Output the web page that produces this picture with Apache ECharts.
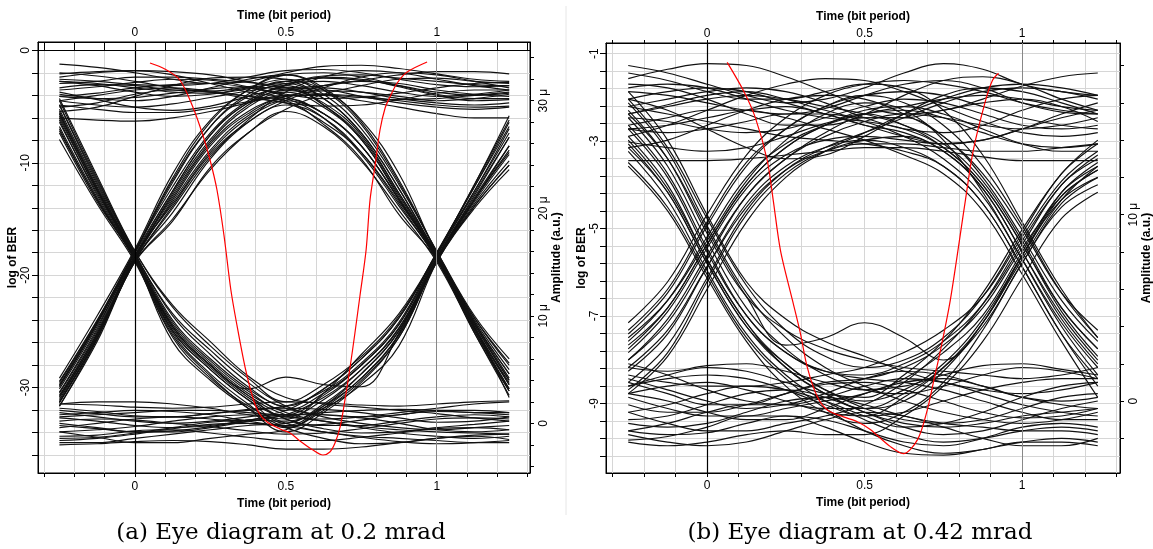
<!DOCTYPE html>
<html><head><meta charset="utf-8">
<script src="https://cdn.jsdelivr.net/npm/echarts@6/dist/echarts.min.js"></script>
<style>html,body{margin:0;padding:0;background:#fff}#c{width:1153px;height:549px}</style>
</head><body><div id="c"></div>
<script>
// ---------- data ----------
const timeSamples = [-0.25,-0.125,0,0.125,0.25,0.375,0.5,0.625,0.75,0.875,1,1.125,1.24];

// Panel (a) traces, amplitude in micro units
const a_flatHigh = [
[33.4,33.1,32.6,32.0,31.6,31.8,32.6,33.2,33.3,33.0,32.5,32.0,31.8],
[32.5,32.7,32.8,32.7,32.4,31.8,31.2,31.4,31.9,32.4,32.7,32.7,32.5],
[31.8,31.6,31.2,30.8,30.7,31.1,31.8,32.1,31.9,31.4,30.8,30.5,30.7],
[31.0,31.3,31.7,32.0,31.9,31.3,30.6,30.2,30.3,30.7,31.2,31.6,31.7],
[30.4,30.2,30.3,30.7,31.1,31.3,31.0,30.6,30.3,30.1,30.2,30.5,30.8],
[29.6,29.2,28.9,28.9,29.3,29.9,30.4,30.6,30.4,30.0,29.6,29.4,29.5],
[30.8,30.1,29.4,29.1,29.5,30.4,31.4,32.2,32.0,31.3,30.5,30.0,30.1],
[28.4,28.2,28.1,28.4,29.0,29.8,30.5,30.5,30.0,29.4,28.8,28.4,28.4],
[32.0,31.8,31.5,31.4,31.6,32.2,32.8,32.9,32.6,32.0,31.5,31.3,31.4],
[30.0,30.5,31.0,31.2,30.9,30.4,29.8,29.5,29.6,30.1,30.7,31.0,31.0]
];
const a_flatLow = [
[1.8,1.7,1.5,1.4,1.5,1.8,2.0,1.9,1.7,1.6,1.8,2.0,2.1],
[0.8,1.0,1.2,1.1,0.8,0.2,-0.2,-0.1,0.3,0.8,1.1,1.0,0.8],
[-0.2,-0.5,-0.8,-0.7,-0.3,0.3,0.8,0.8,0.5,0.0,-0.6,-0.8,-0.6],
[-1.2,-1.1,-0.7,-0.6,-0.9,-1.3,-1.6,-1.6,-1.3,-0.9,-0.5,-0.4,-0.6],
[-2.0,-1.9,-1.7,-1.6,-1.7,-2.0,-2.4,-2.4,-2.2,-1.8,-1.4,-1.2,-1.5],
[0.2,0.4,0.3,0.0,-0.3,-0.7,-1.0,-0.9,-0.5,0.0,0.4,0.5,0.4],
[1.2,0.9,0.6,0.6,0.9,1.2,1.4,1.3,1.0,0.5,0.1,0.2,0.6],
[-1.6,-1.4,-1.0,-0.5,-0.1,0.0,-0.3,-0.8,-1.3,-1.7,-1.9,-1.8,-1.6],
[0.5,0.2,-0.2,-0.4,-0.2,0.3,0.7,1.0,1.2,1.3,1.2,1.0,1.0],
[-0.8,-0.6,-0.3,0.2,0.6,0.8,0.6,0.2,-0.3,-0.6,-0.8,-0.9,-1.0]
];
const a_riseStay = [
[3.8,9.5,16.0,22.0,27.0,30.0,31.5,32.3,32.4,32.1,31.8,31.5,31.4],
[2.6,8.4,15.4,21.0,26.0,29.0,30.4,30.9,30.8,30.4,30.0,30.2,30.6],
[1.6,7.6,15.0,19.0,23.6,27.0,29.2,30.6,31.4,32.0,32.1,31.8,31.6],
[3.2,9.0,15.6,21.6,26.8,29.8,31.0,31.2,30.8,30.2,29.8,29.6,29.8],
[2.0,8.0,15.2,19.6,24.6,28.0,30.0,31.2,32.2,32.6,32.4,31.8,31.2],
[4.2,10.0,16.2,23.2,28.2,31.0,32.4,32.6,32.2,31.4,30.6,30.2,30.2],
[2.9,8.8,15.6,20.4,25.2,28.4,30.2,31.4,31.8,31.6,31.0,30.6,30.4],
[3.5,9.3,15.9,22.6,27.6,30.4,31.6,31.8,31.4,30.8,30.4,30.6,31.0],
[1.9,7.9,15.1,20.0,24.8,28.2,30.8,32.2,32.8,32.6,32.0,31.4,31.0],
[2.4,8.2,15.3,21.4,26.4,29.6,31.0,31.0,30.4,29.8,29.4,29.2,29.4]
];
const a_stayFall = [
[31.6,31.8,32.2,32.2,32.0,31.7,31.2,29.8,26.8,21.4,15.6,9.4,4.6],
[30.4,30.7,31.2,31.5,31.6,31.2,30.4,28.8,25.8,20.8,15.4,8.8,3.6],
[29.0,29.4,30.4,31.4,32.1,32.2,32.0,31.0,28.2,23.2,15.8,9.8,5.6],
[32.6,32.3,31.8,31.2,30.8,30.4,30.0,27.8,24.6,19.4,15.2,8.4,3.0],
[30.0,29.6,29.4,29.7,30.3,30.9,31.4,29.6,26.4,21.2,15.5,9.0,2.4],
[31.2,31.5,31.4,31.0,30.9,31.3,32.0,30.6,27.4,22.2,16.0,10.0,6.0],
[31.8,31.4,30.8,30.4,30.6,31.2,31.6,30.2,27.0,21.8,15.6,9.2,4.0],
[32.2,32.6,32.8,32.4,31.6,30.8,30.2,28.4,25.0,20.2,15.3,8.6,3.2],
[30.6,30.2,30.0,30.4,31.2,32.0,32.4,31.2,28.0,22.6,15.9,9.6,5.0],
[29.4,29.8,30.6,31.0,30.8,30.2,29.8,28.0,25.2,20.6,15.4,8.9,3.8]
];
const a_pulseHigh = [
[3.4,9.2,15.8,21.6,26.8,29.8,31.2,29.6,26.6,21.4,15.8,9.4,4.2],
[2.2,8.2,15.2,20.8,25.8,28.8,30.2,28.8,25.8,20.8,15.3,8.8,3.2],
[1.6,7.8,15.0,18.8,23.8,27.0,29.0,27.6,24.4,19.8,15.0,8.4,2.6],
[3.9,9.6,16.0,22.8,28.0,31.0,32.4,31.0,27.8,22.4,16.0,9.8,5.4],
[2.8,8.6,15.5,21.2,26.2,29.4,30.8,29.4,26.4,21.0,15.5,9.2,4.0],
[2.5,8.4,15.4,20.6,25.4,28.6,30.0,28.8,25.8,20.8,15.4,9.0,3.6],
[3.6,9.4,15.9,22.4,27.6,30.6,31.8,30.2,27.0,21.8,15.7,9.4,4.6],
[2.0,8.0,15.1,20.2,25.0,28.0,29.6,28.4,25.2,20.4,15.2,8.6,3.0]
];
const a_fallStay = [
[29.6,22.4,15.8,9.6,6.0,3.2,1.4,0.8,0.6,0.8,1.2,1.2,1.0],
[28.2,21.2,15.4,8.8,5.2,2.4,0.4,-0.5,-0.9,-0.8,-0.4,-0.1,0.2],
[27.0,20.6,15.2,7.6,4.0,1.4,-0.4,-1.4,-1.9,-1.8,-1.4,-1.1,-1.0],
[30.0,22.8,16.0,11.0,7.6,4.4,2.4,1.8,1.5,1.2,0.9,0.5,0.2],
[28.8,21.8,15.5,9.2,5.6,2.8,1.0,0.2,-0.4,-0.9,-1.2,-1.4,-1.2],
[28.6,21.6,15.5,9.0,5.4,2.6,0.8,0.4,0.6,1.0,1.4,1.8,2.0],
[29.2,22.2,15.7,10.2,6.8,3.8,1.6,0.6,0.0,-0.4,-0.6,-0.4,-0.2],
[27.4,20.8,15.2,8.0,4.2,1.6,0.0,-0.8,-1.2,-1.4,-1.6,-1.8,-1.8],
[28.0,21.4,15.4,8.6,5.0,2.2,0.4,-0.2,-0.2,0.2,0.6,0.8,0.6]
];
const a_stayRise = [
[1.4,1.1,0.7,0.6,0.9,1.3,1.6,3.0,5.6,9.4,15.8,21.6,27.0],
[0.0,-0.4,-0.8,-0.8,-0.4,0.2,0.8,2.4,5.0,8.8,15.4,21.0,25.8],
[-1.4,-1.3,-0.9,-0.4,0.1,0.3,0.2,1.4,3.6,7.2,15.0,20.4,24.4],
[-0.8,-1.3,-1.8,-1.8,-1.4,-1.0,-0.6,1.2,4.0,8.0,15.0,20.0,23.6],
[1.8,2.0,2.0,1.8,1.4,0.8,0.4,2.8,6.4,10.2,15.8,22.2,28.2],
[0.6,0.8,1.0,1.2,1.2,1.0,0.8,2.6,5.4,9.2,15.6,21.4,26.6],
[-1.8,-1.8,-1.4,-1.0,-0.6,-0.2,0.0,1.6,4.2,8.2,15.1,20.2,24.0],
[1.0,0.6,0.2,0.0,0.2,0.6,1.2,3.2,6.0,9.8,15.9,22.0,27.6],
[-0.4,0.0,0.4,0.6,0.4,0.0,-0.2,1.6,4.6,8.6,15.3,20.8,25.2]
];
const a_pulseLow = [
[29.0,22.0,15.6,9.4,5.8,3.0,1.2,2.8,5.4,9.2,15.6,21.6,27.4],
[27.6,21.0,15.3,8.6,5.0,2.2,0.0,1.8,4.6,8.6,15.3,20.8,25.4],
[28.4,21.6,15.5,9.0,5.4,3.2,4.3,3.6,3.4,8.4,15.2,20.8,25.8],
[26.4,20.4,15.0,8.2,4.4,1.4,-0.8,1.0,3.8,8.0,15.0,20.2,24.0],
[30.2,23.0,16.0,10.8,7.2,4.2,2.0,3.6,6.2,10.0,15.8,22.2,28.6],
[28.8,21.8,15.5,9.0,5.4,2.6,0.6,2.2,5.0,8.9,15.4,21.2,26.6],
[27.2,20.8,15.2,8.4,4.6,1.8,-0.4,1.4,4.2,8.3,15.2,20.6,25.0],
[29.6,22.6,15.8,10.0,6.4,3.4,1.6,3.2,6.0,9.8,15.8,22.0,28.0]
];

// Panel (b) traces
const b_flatHigh = [
[18.0,17.6,17.0,16.4,16.0,16.2,16.8,17.6,18.1,17.8,17.0,16.6,16.4],
[17.3,17.8,18.1,18.0,17.4,16.6,15.8,15.4,15.6,16.2,16.9,17.4,17.6],
[16.6,16.4,16.0,15.6,15.4,15.7,16.4,17.0,17.2,16.8,16.0,15.5,15.4],
[15.8,16.2,16.6,16.8,16.6,16.0,15.2,14.6,14.4,14.8,15.6,16.2,16.4],
[15.2,15.0,14.6,14.4,14.6,15.2,15.8,16.2,16.0,15.4,14.8,14.6,14.8],
[14.6,14.8,15.2,15.6,15.8,15.4,14.8,14.2,13.8,14.0,14.6,15.2,15.6],
[13.9,13.6,13.4,13.6,14.2,14.9,15.4,15.6,15.2,14.4,13.8,13.6,13.8],
[12.9,12.9,12.9,13.0,13.2,13.4,13.6,13.6,13.4,13.1,12.9,12.9,12.9],
[16.2,15.6,14.6,13.6,13.0,13.2,14.2,15.4,16.4,16.8,16.6,16.0,15.4],
[14.2,14.8,15.6,16.4,17.0,17.3,17.2,16.6,15.8,15.0,14.4,14.2,14.4],
[17.0,16.8,16.2,15.4,14.8,14.8,15.4,16.4,17.2,17.4,17.0,16.2,15.6],
[15.4,15.9,16.4,16.6,16.2,15.6,15.2,15.2,15.6,16.0,16.2,15.8,15.0]
];
const b_flatLow = [
[1.8,1.6,1.9,2.0,1.6,1.0,0.6,0.8,1.4,1.9,2.0,1.7,1.4],
[0.8,1.2,1.4,1.2,0.6,-0.2,-0.8,-0.6,0.0,0.6,1.0,1.2,1.2],
[-0.2,-0.6,-0.6,-0.2,0.4,0.9,1.0,0.6,0.0,-0.6,-0.9,-0.8,-0.4],
[-1.0,-0.8,-0.2,0.4,0.6,0.2,-0.6,-1.4,-1.8,-1.6,-1.0,-0.4,0.0],
[-1.6,-1.8,-1.7,-1.2,-0.8,-1.0,-1.6,-2.2,-2.4,-2.0,-1.4,-1.2,-1.4],
[-2.1,-1.9,-1.4,-0.8,-0.8,-1.4,-2.2,-2.8,-2.9,-2.6,-2.2,-2.0,-2.2],
[0.4,0.0,-0.6,-1.0,-1.0,-0.4,0.4,1.0,1.2,0.8,0.2,-0.2,-0.4],
[1.2,0.6,0.0,-0.4,-0.2,0.4,1.2,1.6,1.4,0.8,0.2,0.0,0.2],
[-0.6,-0.2,0.4,0.8,0.6,0.0,-0.8,-1.4,-1.2,-0.6,0.2,0.8,1.0],
[-1.2,-1.4,-1.2,-0.6,0.0,0.2,-0.2,-0.8,-1.2,-1.4,-1.6,-1.6,-1.8],
[2.0,1.4,0.6,0.0,-0.2,0.2,0.8,1.2,1.0,0.4,-0.2,-0.6,-0.8],
[-1.8,-2.2,-2.4,-2.2,-1.6,-1.0,-0.6,-0.8,-1.4,-2.0,-2.4,-2.4,-2.0]
];
const b_riseStay = [
[3.2,5.4,8.8,12.0,13.8,14.8,15.4,15.8,16.2,16.4,16.2,15.8,15.6],
[2.2,4.2,7.6,11.0,13.0,14.2,15.0,15.4,15.2,14.8,14.6,14.8,15.2],
[1.0,3.0,6.6,10.2,12.4,13.6,14.4,15.2,16.0,16.6,16.8,16.6,16.2],
[3.8,6.0,9.6,12.8,14.6,15.8,16.4,16.6,16.4,15.8,15.2,14.8,14.6],
[2.6,4.8,8.2,11.4,13.2,14.0,14.2,14.0,13.8,14.0,14.6,15.4,16.0],
[0.4,2.4,6.0,9.6,12.0,13.4,14.4,15.4,16.2,16.8,17.0,16.8,16.4],
[3.0,5.0,8.4,11.6,13.6,14.8,15.6,15.8,15.4,14.6,13.8,13.4,13.4],
[1.8,3.8,7.2,10.4,12.4,13.4,13.8,13.8,13.6,13.4,13.4,13.6,13.8],
[4.2,6.4,10.0,13.2,15.2,16.4,17.0,17.2,17.0,16.6,16.0,15.6,15.4]
];
const b_stayFall = [
[15.4,15.8,16.2,16.4,16.2,15.8,15.4,14.8,13.8,11.8,8.6,5.0,2.8],
[14.6,14.4,14.6,15.0,15.4,15.4,15.0,14.2,13.0,11.0,7.6,4.2,1.8],
[16.8,17.0,16.8,16.2,15.6,15.2,15.0,14.6,13.6,11.6,8.4,4.8,2.4],
[13.6,14.0,14.8,15.6,16.2,16.4,16.2,15.4,14.2,12.2,9.2,5.8,3.8],
[15.8,15.4,15.0,14.6,14.2,14.0,13.8,13.4,12.6,10.6,7.2,3.6,0.8],
[17.6,17.2,16.6,16.2,16.2,16.6,17.0,16.8,15.6,13.2,9.6,6.0,3.4],
[14.8,15.2,15.6,15.6,15.2,14.6,14.0,13.2,12.2,10.2,6.8,3.2,0.2],
[16.2,16.6,16.8,16.6,16.0,15.4,14.8,14.4,13.4,11.4,8.0,4.6,2.2]
];
const b_pulseHigh = [
[2.8,5.0,8.4,11.6,13.6,14.8,15.4,14.8,13.6,11.6,8.4,5.0,2.8],
[1.6,3.6,7.2,10.6,12.6,13.6,14.0,13.6,12.6,10.6,7.2,3.6,1.2],
[3.6,5.8,9.4,12.6,14.6,15.8,16.4,16.0,14.8,12.6,9.4,5.8,3.4],
[0.6,2.6,6.4,10.0,12.2,13.4,14.0,14.2,13.4,11.4,8.0,4.4,2.0],
[2.2,4.4,7.8,11.0,13.0,14.4,15.2,15.2,14.2,12.0,8.8,5.4,3.2],
[3.4,5.4,8.6,11.8,14.0,15.4,16.0,15.6,14.0,11.2,7.6,4.0,1.4]
];
const b_fallStay = [
[15.2,12.6,8.6,5.0,2.8,1.4,0.6,0.4,0.8,1.4,1.8,1.6,1.2],
[14.2,11.6,7.6,4.2,2.0,0.6,-0.4,-1.0,-1.2,-1.0,-0.4,0.2,0.4],
[16.0,13.4,9.4,5.8,3.4,1.8,0.8,0.0,-0.6,-1.0,-1.2,-1.0,-0.6],
[13.4,10.8,7.0,3.6,1.4,0.0,-1.0,-1.8,-2.2,-2.0,-1.6,-1.4,-1.6],
[14.8,12.2,8.2,4.6,2.6,1.6,1.2,1.0,0.6,0.0,-0.6,-1.0,-1.0],
[15.6,13.0,9.0,5.6,3.8,2.8,2.2,1.8,1.6,1.4,1.2,1.4,1.8],
[12.8,10.4,6.8,3.4,1.2,-0.4,-1.6,-2.4,-2.8,-2.6,-2.2,-2.2,-2.4],
[16.6,14.0,10.0,6.4,4.4,3.2,2.4,1.6,1.0,0.6,0.4,0.6,1.0],
[13.8,11.2,7.4,4.0,1.8,0.4,-0.6,-1.2,-1.4,-1.2,-0.8,-0.6,-0.4]
];
const b_stayRise = [
[1.4,1.0,0.8,0.8,1.0,1.4,1.8,2.6,3.8,5.6,8.8,11.8,13.4],
[0.2,-0.4,-0.8,-0.8,-0.4,0.0,0.4,1.2,2.6,4.6,8.0,11.2,12.6],
[-1.6,-1.2,-0.6,-0.2,-0.2,-0.4,-0.4,0.4,1.8,4.0,7.4,10.6,12.0],
[-0.6,-1.2,-1.6,-1.6,-1.2,-0.8,-0.2,1.0,2.8,5.2,8.6,11.6,13.2],
[0.8,1.4,1.8,1.6,1.0,0.4,0.2,1.4,3.2,5.8,9.2,12.2,14.0],
[-2.2,-2.4,-2.2,-1.8,-1.6,-1.8,-1.8,-0.8,0.8,3.2,6.6,9.8,11.2],
[1.0,0.4,-0.2,-0.2,0.4,1.0,1.2,1.8,3.0,5.0,8.2,11.0,12.4],
[0.4,0.8,1.0,0.6,0.0,-0.6,-0.8,0.2,1.8,4.2,7.6,10.8,12.6]
];
const b_pulseLow = [
[14.6,12.0,8.0,4.6,2.6,1.6,1.4,2.0,3.2,5.2,8.4,11.6,13.0],
[13.6,11.2,7.4,4.0,2.0,0.6,0.0,0.6,2.0,4.4,7.8,11.0,12.4],
[15.4,13.0,9.2,5.6,3.0,3.4,4.2,3.4,2.2,4.2,7.8,11.2,12.8],
[12.6,10.2,6.6,3.2,0.8,-0.6,-1.2,-0.6,1.0,3.8,7.4,10.4,11.6],
[16.2,13.6,9.8,6.2,3.8,2.4,1.8,2.2,3.4,5.6,9.0,12.2,13.8],
[14.0,11.4,7.6,4.2,1.8,0.4,-0.4,0.0,1.6,4.2,7.8,10.8,12.0]
];

// BER curves (time, log10 BER)
const berA_t   = [0.050,0.099,0.149,0.192,0.225,0.249,0.272,0.295,0.318,0.338,0.365,0.391,0.411,0.438,0.481,0.514,0.547,0.590,0.623,0.646,0.663,0.680,0.696,0.713,0.729,0.746,0.766,0.779,0.796,0.812,0.829,0.845,0.869,0.902,0.968];
const berA_log = [-1.12,-1.65,-2.63,-5.03,-7.53,-9.75,-12.42,-16.42,-21.32,-24.43,-28.17,-30.93,-32.26,-33.06,-33.68,-34.04,-34.75,-35.56,-36.0,-35.73,-34.93,-33.5,-31.1,-28.17,-25.14,-21.76,-17.76,-13.31,-10.19,-7.08,-5.12,-4.14,-2.9,-1.92,-1.03];
const berB_t   = [0.064,0.115,0.153,0.191,0.210,0.233,0.271,0.296,0.318,0.350,0.382,0.433,0.477,0.518,0.582,0.623,0.668,0.699,0.718,0.741,0.772,0.820,0.845,0.884,0.906,0.925];
const berB_log = [-1.2,-1.84,-2.46,-3.44,-4.35,-5.5,-6.64,-7.39,-8.17,-8.85,-9.15,-9.31,-9.42,-9.6,-9.99,-10.15,-9.83,-9.15,-8.53,-7.78,-6.64,-4.35,-3.21,-2.07,-1.61,-1.45];

// ticks and labels
const xTickVals  = [-0.3,-0.2,-0.1,0,0.1,0.2,0.3,0.4,0.5,0.6,0.7,0.8,0.9,1,1.1,1.2,1.3];
const xLabelVals = [0,0.5,1];
const berTicksA  = [-36,-34,-32,-30,-28,-26,-24,-22,-20,-18,-16,-14,-12,-10,-8,-6,-4,-2,0];
const berLabelsA = [-30,-20,-10,0];
const ampTicksA  = [-4,-2,0,2,4,6,8,10,12,14,16,18,20,22,24,26,28,30,32,34];
const ampLabelsA = [0,10,20,30];
const berTicksB  = [-10.2,-9.8,-9.4,-9,-8.6,-8.2,-7.8,-7.4,-7,-6.6,-6.2,-5.8,-5.4,-5,-4.6,-4.2,-3.8,-3.4,-3,-2.6,-2.2,-1.8,-1.4,-1];
const berLabelsB = [-9,-7,-5,-3,-1];
const ampTicksB  = [-2,0,2,4,6,8,10,12,14,16,18];
const ampLabelsB = [0,10];
const captions = ['(a) Eye diagram at 0.2 mrad', '(b) Eye diagram at 0.42 mrad'];
const timeName = 'Time (bit period)';
const berName = 'log of BER';
const ampName = 'Amplitude (a.u.)';

// ---------- chart ----------
const SANS = '"Liberation Sans", Arial, sans-serif';
const nameStyle = {fontWeight:'bold', fontSize:12, color:'#000', fontFamily:SANS};
const labelBase = {color:'#000', fontSize:12, fontFamily:SANS};
const gridLine = {show:true, lineStyle:{color:'#d6d6d6', width:1, type:'solid'}};
const black = {color:'#000', width:1};

function xAx(g, pos, min, max, tickLen, tickInside, margin, gap, split) {
  return {gridIndex:g, type:'value', position:pos, min:min, max:max,
    axisLine:{show:true, onZero:false, lineStyle:black},
    axisTick:{show:true, inside:tickInside, length:tickLen, customValues:xTickVals, lineStyle:black},
    axisLabel:Object.assign({show:true, customValues:xLabelVals, margin:margin, formatter:v=>String(v)}, labelBase),
    splitLine: split ? gridLine : {show:false},
    name:timeName, nameLocation:'middle', nameGap:gap, nameTextStyle:nameStyle};
}
function yAx(g, pos, min, max, ticks, labels, fmt, margin, gap, name, split, tickLen) {
  return {gridIndex:g, type:'value', position:pos, min:min, max:max,
    axisLine:{show:true, onZero:false, lineStyle:black},
    axisTick:{show:true, inside:false, length:tickLen, customValues:ticks, lineStyle:black},
    axisLabel:Object.assign({show:true, customValues:labels, margin:margin, rotate:90, formatter:fmt}, labelBase),
    splitLine: split ? gridLine : {show:false},
    name:name, nameLocation:'middle', nameGap:gap, nameTextStyle:nameStyle};
}
const ampFmt = v => v === 0 ? '0' : v + ' μ';

function traces(list, xi, yi) {
  return list.map(v => ({type:'line', xAxisIndex:xi, yAxisIndex:yi, silent:true, animation:false,
    data: timeSamples.map((t,i)=>[t, v[i]]), smooth:0.4, showSymbol:false, symbol:'none',
    lineStyle:{color:'#111', width:1.15}, z:3}));
}
function berSeries(ts, ls, xi, yi, marks) {
  return {type:'line', xAxisIndex:xi, yAxisIndex:yi, silent:true, animation:false,
    data: ts.map((t,i)=>[t, ls[i]]), smooth:0.3, showSymbol:false, symbol:'none',
    lineStyle:{color:'#ff0000', width:1.2}, z:6,
    markLine:{silent:true, symbol:['none','none'], animation:false, label:{show:false},
      emphasis:{disabled:true}, data:marks}};
}

const series = [].concat(
  traces(a_flatHigh,0,1), traces(a_flatLow,0,1), traces(a_riseStay,0,1), traces(a_stayFall,0,1),
  traces(a_pulseHigh,0,1), traces(a_fallStay,0,1), traces(a_stayRise,0,1), traces(a_pulseLow,0,1),
  traces(b_flatHigh,2,3), traces(b_flatLow,2,3), traces(b_riseStay,2,3), traces(b_stayFall,2,3),
  traces(b_pulseHigh,2,3), traces(b_fallStay,2,3), traces(b_stayRise,2,3), traces(b_pulseLow,2,3),
  [berSeries(berA_t, berA_log, 0, 0, [
      {xAxis:0, lineStyle:{color:'#000', width:1.2, type:'solid'}},
      {xAxis:1, lineStyle:{color:'#888', width:1, type:'solid'}},
      {yAxis:0, lineStyle:{color:'#000', width:1, type:'solid'}}]),
   berSeries(berB_t, berB_log, 2, 2, [
      {xAxis:0, lineStyle:{color:'#000', width:1.2, type:'solid'}},
      {xAxis:1, lineStyle:{color:'#888', width:1, type:'solid'}}])]
);

const capFont = '23px "DejaVu Serif", serif';
const option = {
  animation:false,
  backgroundColor:'#fff',
  grid:[
    {left:38, top:42, width:492, height:431, show:true, borderColor:'#000', borderWidth:1, containLabel:false, outerBoundsMode:'none'},
    {left:606, top:43, width:514, height:430, show:true, borderColor:'#000', borderWidth:1, containLabel:false, outerBoundsMode:'none'}
  ],
  xAxis:[
    xAx(0,'bottom',-0.321,1.309,4,false,8,22,true),
    xAx(0,'top',-0.321,1.309,8,true,3,18,false),
    xAx(1,'bottom',-0.3206,1.3105,4,false,7,20,true),
    xAx(1,'top',-0.3206,1.3105,3,false,3,19,false)
  ],
  yAxis:[
    yAx(0,'left',-37.6,0.75,berTicksA,berLabelsA,v=>String(v),6,17,berName,true,6),
    yAx(0,'right',-4.62,35.46,ampTicksA,ampLabelsA,ampFmt,8,21,ampName,false,4),
    yAx(1,'left',-10.593,-0.758,berTicksB,berLabelsB,v=>String(v),5,16,berName,true,6),
    yAx(1,'right',-3.86,19.21,ampTicksB,ampLabelsB,ampFmt,8,19,ampName,false,4)
  ],
  graphic:[
    {type:'line', shape:{x1:566, y1:6, x2:566, y2:515}, style:{stroke:'#e6e6e6', lineWidth:1}, silent:true},
    {type:'text', x:281, y:533, silent:true, style:{text:captions[0], font:capFont, fill:'#000', align:'center', verticalAlign:'middle', textAlign:'center', textVerticalAlign:'middle'}},
    {type:'text', x:860, y:533, silent:true, style:{text:captions[1], font:capFont, fill:'#000', align:'center', verticalAlign:'middle', textAlign:'center', textVerticalAlign:'middle'}}
  ],
  series: series
};
const chart = echarts.init(document.getElementById('c'), null, {renderer:'canvas'});
chart.setOption(option);
</script>
</body></html>
